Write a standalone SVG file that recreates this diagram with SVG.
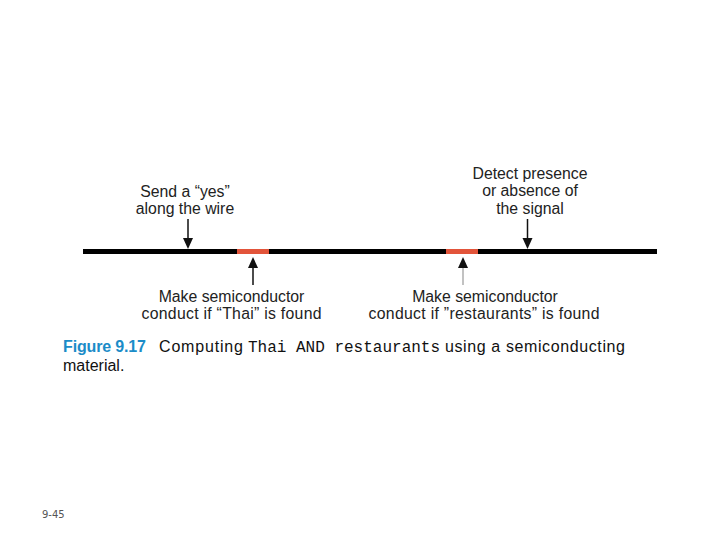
<svg xmlns="http://www.w3.org/2000/svg" width="720" height="540" viewBox="0 0 720 540">
<style>
.lbl{font-family:"Liberation Sans",Arial,sans-serif;font-size:15.8px;fill:#222;text-anchor:middle}
.cap{font-family:"Liberation Sans",Arial,sans-serif;font-size:16px;fill:#111}
.mono{font-family:"Liberation Mono","Courier New",monospace;font-size:16px;fill:#111}
.arr{stroke:#111;stroke-width:1.5;fill:none}
.head{fill:#111}
</style>
<rect width="720" height="540" fill="#fff"/>
<g id="wire">
<line x1="83" y1="251.5" x2="657" y2="251.5" stroke="#000" stroke-width="5"/>
<rect x="237" y="249" width="32" height="5" fill="#e2543a"/>
<rect x="446" y="249" width="32" height="5" fill="#e2543a"/>
</g>
<g id="connectors">
<line class="arr" x1="188" y1="219" x2="188" y2="240"/>
<polygon class="head" points="183,238 193,238 188,249"/>
<line class="arr" x1="527.5" y1="219" x2="527.5" y2="240"/>
<polygon class="head" points="522.5,238 532.5,238 527.5,249"/>
<line class="arr" x1="253" y1="266" x2="253" y2="285"/>
<polygon class="head" points="248,268 258,268 253,257"/>
<line x1="463" y1="266" x2="463" y2="285" stroke="#999" stroke-width="1.2"/>
<polygon class="head" points="458,268 468,268 463,257"/>
</g>
<g id="send">
<text class="lbl" x="185" y="196.5">Send a “yes”</text>
<text class="lbl" x="185" y="213.5">along the wire</text>
</g>
<g id="detect">
<text class="lbl" x="530" y="178.5">Detect presence</text>
<text class="lbl" x="530" y="196">or absence of</text>
<text class="lbl" x="530" y="213.5">the signal</text>
</g>
<g id="thai">
<text class="lbl" x="231.5" y="301.5">Make semiconductor</text>
<text class="lbl" x="231.5" y="319.3" textLength="180">conduct if “Thai” is found</text>
</g>
<g id="restaurants">
<text class="lbl" x="485" y="301.5">Make semiconductor</text>
<text class="lbl" x="484" y="319.3" textLength="231">conduct if ”restaurants” is found</text>
</g>
<g id="caption">
<text class="cap" x="63" y="352.3" font-weight="bold" style="fill:#1b8cc8" textLength="83">Figure 9.17</text>
<text class="cap" x="159" y="352.3" textLength="84">Computing</text>
<text class="mono" x="248" y="352.3">Thai AND restaurants</text>
<text class="cap" x="445" y="352.3" textLength="180">using a semiconducting</text>
<text class="cap" x="63" y="371">material.</text>
</g>
<text x="42" y="518" font-family="DejaVu Sans, sans-serif" font-size="10" fill="#555">9-45</text>
</svg>
